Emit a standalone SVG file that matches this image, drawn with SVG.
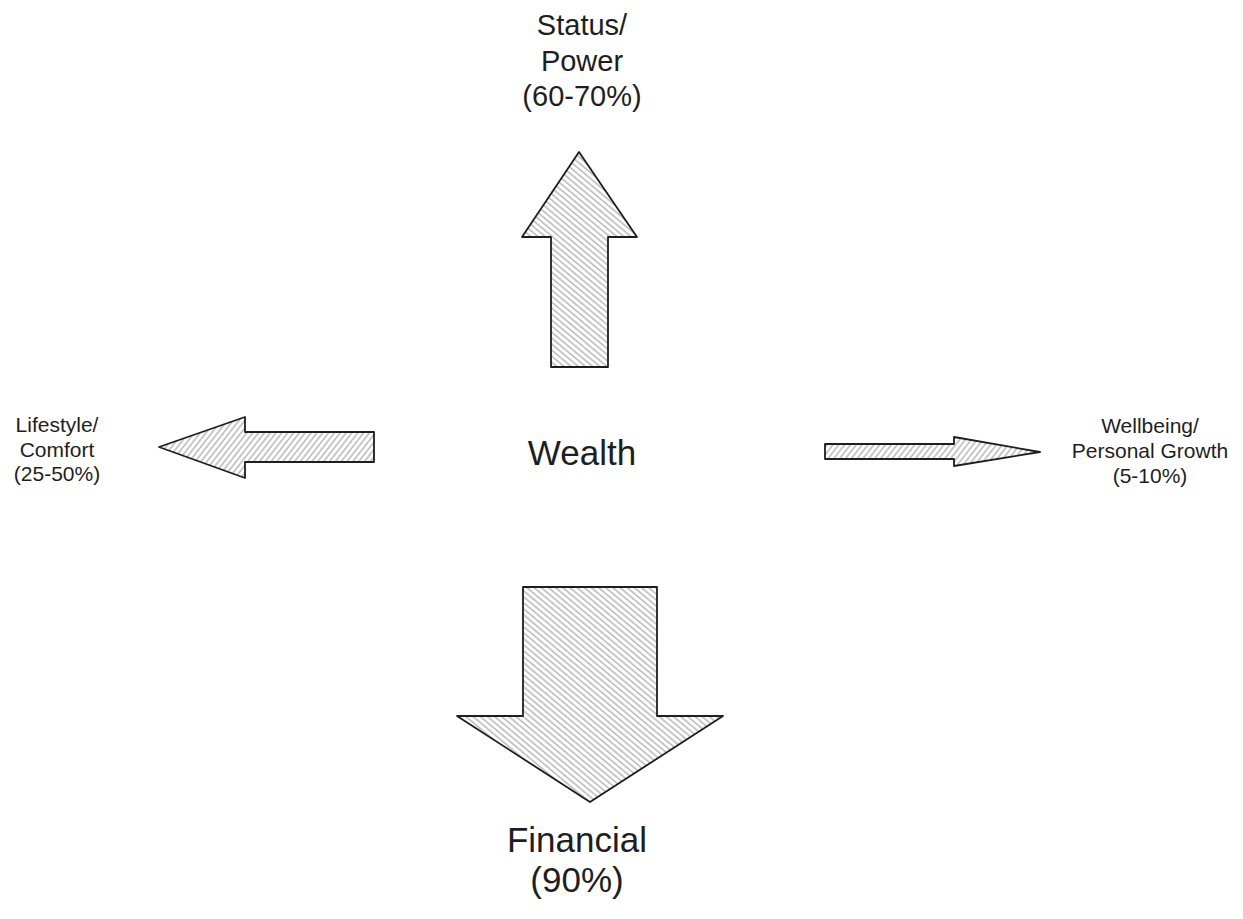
<svg xmlns="http://www.w3.org/2000/svg" width="1243" height="919" viewBox="0 0 1243 919">
  <defs>
    <pattern id="hatchV" patternUnits="userSpaceOnUse" width="8" height="4.6" patternTransform="rotate(40)">
      <line x1="0" y1="1" x2="8" y2="1" stroke="#a6a6a6" stroke-width="1.2"/>
    </pattern>
    <pattern id="hatchH" patternUnits="userSpaceOnUse" width="8" height="4.6" patternTransform="rotate(-52)">
      <line x1="0" y1="1" x2="8" y2="1" stroke="#a6a6a6" stroke-width="1.2"/>
    </pattern>
  </defs>
  <style>
    .arrow { stroke: #1e1e1e; stroke-width: 1.8; stroke-linejoin: round; }
    .v { fill: url(#hatchV); }
    .h { fill: url(#hatchH); }
    text { font-family: "Liberation Sans", "DejaVu Sans", sans-serif; fill: #1e1e1e; text-anchor: middle; }
    .big { font-size: 35px; }
    .mid { font-size: 29px; }
    .small { font-size: 21px; }
  </style>
  <rect width="1243" height="919" fill="#ffffff"/>

  <g id="connectors">
    <polygon id="arrow-up" class="arrow v" points="579,152 637,237 608,237 608,367 551,367 551,237 522,237"/>
    <polygon id="arrow-left" class="arrow h" points="159,447 245,417 245,432 374,432 374,462 245,462 245,478"/>
    <polygon id="arrow-right" class="arrow h" points="825,444 954,444 954,437 1040,452 954,466 954,459 825,459"/>
    <polygon id="arrow-down" class="arrow v" points="523,587 657,587 657,716 723,716 590,802 457,716 523,716"/>
  </g>

  <g id="node-wealth">
    <text class="big" x="582" y="465">Wealth</text>
  </g>
  <g id="node-status">
    <text class="mid" x="582" y="35">Status/</text>
    <text class="mid" x="582" y="71">Power</text>
    <text class="mid" x="582" y="106">(60-70%)</text>
  </g>
  <g id="node-lifestyle">
    <text class="small" x="57" y="432">Lifestyle/</text>
    <text class="small" x="57" y="457">Comfort</text>
    <text class="small" x="57" y="481">(25-50%)</text>
  </g>
  <g id="node-wellbeing">
    <text class="small" x="1150" y="433">Wellbeing/</text>
    <text class="small" x="1150" y="458">Personal Growth</text>
    <text class="small" x="1150" y="483">(5-10%)</text>
  </g>
  <g id="node-financial">
    <text class="big" x="577" y="852">Financial</text>
    <text class="big" x="577" y="892">(90%)</text>
  </g>
</svg>
